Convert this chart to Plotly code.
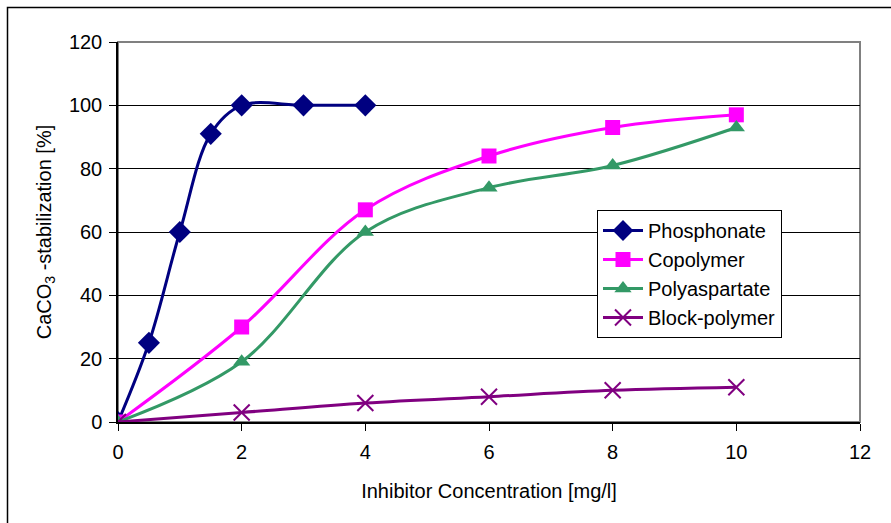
import plotly.graph_objects as go

phos_x = [0, 0.5, 1, 1.5, 2, 3, 4]
phos_y = [0, 25, 60, 91, 100, 100, 100]
copo_x = [0, 2, 4, 6, 8, 10]
copo_y = [0, 30, 67, 84, 93, 97]
poly_x = [0, 2, 4, 6, 8, 10]
poly_y = [0, 19, 60, 74, 81, 93]
block_x = [0, 2, 4, 6, 8, 10]
block_y = [0, 3, 6, 8, 10, 11]

x_ticks = [0, 2, 4, 6, 8, 10, 12]
y_ticks = [0, 20, 40, 60, 80, 100, 120]

W, H = 891, 523
L, R, T, B = 118, 31, 42, 101
pw, ph = W - L - R, H - T - B

fig = go.Figure()

def add(name, xs, ys, color, symbol, size, mline=None):
    marker = dict(symbol=symbol, size=size, color=color)
    if mline:
        marker["line"] = dict(color=color, width=mline)
    fig.add_trace(go.Scatter(x=xs, y=ys, name=name, mode="lines+markers",
                             line=dict(color=color, width=3, shape="spline", smoothing=1),
                             marker=marker))

add("Phosphonate", phos_x, phos_y, "#000080", "diamond", 17)
add("Copolymer", copo_x, copo_y, "#FF00FF", "square", 15)
add("Polyaspartate", poly_x, poly_y, "#339966", "triangle-up", 15)
add("Block-polymer", block_x, block_y, "#800080", "x-thin-open", 16, 2)

def px2x(p):
    return (p - L) / pw

def py2y(p):
    return (H - B - p) / ph

fig.add_shape(type="rect", xref="paper", yref="paper",
              x0=px2x(7.5), x1=px2x(905), y0=py2y(540), y1=py2y(7.5),
              line=dict(color="#000000", width=1.5), layer="below")
fig.add_shape(type="rect", xref="paper", yref="paper", x0=0, x1=1, y0=0, y1=1,
              line=dict(color="#808080", width=2), layer="below")

fig.update_layout(
    width=W, height=H,
    margin=dict(l=L, r=R, t=T, b=B),
    paper_bgcolor="white", plot_bgcolor="white",
    font=dict(family="Arial, 'Liberation Sans', sans-serif", size=20, color="#000000"),
    showlegend=True,
    legend=dict(x=px2x(597), y=py2y(210), xanchor="left", yanchor="top",
                bordercolor="#000000", borderwidth=1, bgcolor="white",
                font=dict(size=20), tracegroupgap=0, itemsizing="trace",
                itemwidth=40),
    xaxis=dict(range=[0, 12], tickvals=x_ticks, showgrid=False, zeroline=False,
               showline=True, linecolor="#000000", linewidth=1.5,
               ticks="outside", ticklen=7, tickcolor="#000000", tickfont=dict(size=20),
               ticklabelstandoff=4,
               title=dict(text="Inhibitor Concentration [mg/l]", font=dict(size=20), standoff=22)),
    yaxis=dict(range=[0, 120], tickvals=y_ticks, showgrid=True, gridcolor="#000000", gridwidth=1,
               zeroline=False, showline=True, linecolor="#000000", linewidth=1.5,
               ticks="outside", ticklen=7, tickcolor="#000000", tickfont=dict(size=20),
               ticklabelstandoff=3,
               title=dict(text="CaCO<sub>3</sub> -stabilization [%]", font=dict(size=20), standoff=12)),
)

fig.write_html("out.html")
